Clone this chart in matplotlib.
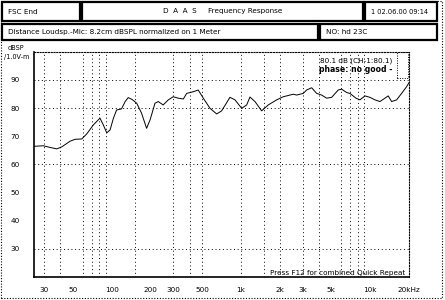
import matplotlib
matplotlib.use("Agg")
import matplotlib.pyplot as plt
from matplotlib.patches import Rectangle

# ---- data ----
freq_hz = [25, 29.5, 33.3, 37.5, 41, 47.5, 52, 58.5, 64, 72, 81, 86, 91.4, 97, 103,
           109, 119, 127, 134, 143, 156, 170, 186, 198, 216, 229, 250, 274, 299,
           327, 358, 380, 428, 467, 511, 576, 649, 709, 822, 899, 1013, 1108, 1174,
           1284, 1447, 1628, 1890, 2126, 2540, 2700, 3038, 3226, 3527, 3855, 4215,
           4608, 5038, 5665, 6020, 6583, 6980, 7768, 8343, 9120, 9965, 10897, 11910,
           13025, 13815, 14673, 16043, 17538, 19173, 20000]
spl_db = [66.4, 66.6, 66.0, 65.5, 66.2, 68.2, 68.9, 69.0, 70.8, 74.0, 76.4, 74.0, 71.2,
          72.2, 76.4, 79.3, 79.7, 82.3, 83.7, 83.1, 81.7, 78.2, 72.8, 75.8, 81.7, 82.3,
          81.1, 82.9, 84.0, 83.5, 83.2, 85.2, 85.8, 86.4, 83.5, 79.9, 77.9, 79.0, 83.8,
          82.9, 79.9, 81.1, 83.9, 82.3, 79.0, 81.1, 82.9, 84.0, 84.9, 84.6, 85.2, 86.4,
          87.2, 85.2, 84.6, 83.5, 83.8, 86.4, 86.7, 85.5, 85.2, 83.5, 82.9, 84.3, 83.8,
          82.9, 82.3, 83.5, 84.3, 82.3, 82.9, 85.2, 87.6, 89.0]

x_tick_vals = [30, 50, 100, 200, 300, 500, 1000, 2000, 3000, 5000, 10000, 20000]
x_tick_labels = ["30", "50", "100", "200", "300", "500", "1k", "2k", "3k", "5k", "10k", "20kHz"]
y_tick_vals = [90, 80, 70, 60, 50, 40, 30]
y_tick_labels = ["90", "80", "70", "60", "50", "40", "30"]
vgrid_freqs = [30, 40, 60, 70, 80, 90, 150, 300, 400, 500, 1000, 1500, 2000, 3000,
               4000, 6000, 7000, 8000, 9000]
hgrid_db = [90, 80, 60, 30]

W, H = 445, 300
fig = plt.figure(figsize=(W / 100, H / 100), dpi=100)
plt.rcParams['font.family'] = ['DejaVu Sans']
FS = 5.2

def fx(px):
    return px / W

def fy(py):
    return 1 - py / H

# outer dotted border
fig.patches.append(Rectangle((fx(1), fy(298)), fx(442) - fx(1), fy(1) - fy(298),
                             transform=fig.transFigure, fill=False, lw=0.8,
                             ls=(0, (1, 1.5)), ec="black"))

# header boxes
boxes = [
    (2, 2, 80, 21, "FSC End", "left", FS),
    (82, 2, 363, 21, "D  A  A  S     Frequency Response", "center", FS),
    (365, 2, 437, 21, "1 02.06.00 09:14", "left", 4.8),
    (2, 24, 318, 40, "Distance Loudsp.-Mic: 8.2cm dBSPL normalized on 1 Meter", "left", FS),
    (320, 24, 437, 40, "NO: hd 23C", "left", FS),
]
for x0, y0, x1, y1, txt, ha, fs in boxes:
    fig.patches.append(Rectangle((fx(x0), fy(y1)), fx(x1) - fx(x0), fy(y0) - fy(y1),
                                 transform=fig.transFigure, fill=False, lw=1.6,
                                 ec="black"))
    if ha == "center":
        tx = fx((x0 + x1) / 2)
    else:
        tx = fx(x0 + 6)
    fig.text(tx, fy((y0 + y1) / 2), txt, ha=ha, va="center", fontsize=fs)

ax = fig.add_axes([fx(34), fy(277), fx(409) - fx(34), fy(51.7) - fy(277)])
ax.set_xscale("log")
ax.set_xlim(25, 20000)
ax.set_ylim(20, 100)

for f in vgrid_freqs:
    ax.axvline(f, color="black", lw=0.7, ls=(0, (1, 2.8)), zorder=1)
for d in hgrid_db:
    ax.axhline(d, color="black", lw=0.7, ls=(0, (1, 2.8)), zorder=1)

ax.plot(freq_hz, spl_db, color="black", lw=0.7, zorder=3)

ax.set_xticks(x_tick_vals)
ax.set_xticklabels(x_tick_labels, fontsize=FS)
ax.set_xticks([], minor=True)
ax.set_yticks(y_tick_vals)
ax.set_yticklabels(y_tick_labels, fontsize=FS)
ax.tick_params(length=0, pad=7)
ax.tick_params(axis="y", pad=10)

for s in ["top", "right"]:
    ax.spines[s].set_linestyle((0, (1, 1.5)))
    ax.spines[s].set_linewidth(0.8)
for s in ["left", "bottom"]:
    ax.spines[s].set_linewidth(1.2)

ax.text(0.955, 0.975, "80.1 dB (CH-1:80.1)", transform=ax.transAxes, ha="right",
        va="top", fontsize=FS)
ax.text(0.955, 0.94, "phase: no good -", transform=ax.transAxes, ha="right",
        va="top", fontsize=FS + 0.4, fontweight="bold")
ax.text(0.99, 0.005, "Press F12 for combined Quick Repeat", transform=ax.transAxes,
        ha="right", va="bottom", fontsize=FS)

fig.patches.append(Rectangle((fx(397), fy(78)), fx(408) - fx(397), fy(52) - fy(78),
                             transform=fig.transFigure, fill=False, lw=0.7,
                             ls=(0, (1, 1.5)), ec="black"))

fig.text(fx(8), fy(48), "dBSP", fontsize=FS - 0.5, ha="left", va="center")
fig.text(fx(4), fy(57), "/1.0V-m", fontsize=FS - 0.5, ha="left", va="center")

fig.savefig("out.png", dpi=100, facecolor="white")
